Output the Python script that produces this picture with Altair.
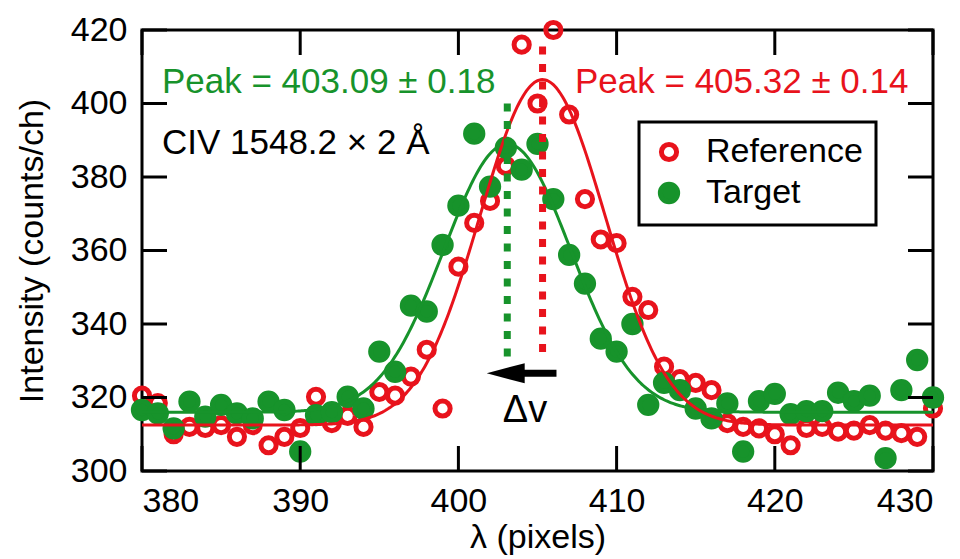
import altair as alt
import numpy as np
import pandas as pd

# ---------------- data ----------------
lam = list(range(380, 431))

ref_counts = [320.5, 318.5, 310.0, 312.0, 311.7, 312.5, 309.3, 312.5, 307.0, 309.3,
              311.7, 320.2, 313.0, 315.0, 312.0, 321.5, 320.5, 325.7, 333.0, 317.0,
              355.6, 367.5, 373.5, 383.0, 416.0, 400.0, 420.0, 397.0, 374.0, 363.0,
              362.0, 347.4, 343.8, 328.4, 325.0, 324.0, 322.0, 313.0, 312.0, 311.6,
              310.0, 307.0, 311.7, 312.0, 310.7, 311.0, 312.5, 311.0, 310.3, 309.3,
              317.0]

tgt_counts = [316.6, 315.7, 311.6, 318.9, 314.8, 318.0, 315.7, 314.3, 318.9, 316.6,
              305.3, 315.2, 316.0, 320.2, 317.0, 332.5, 327.0, 345.0, 343.4, 361.5,
              372.2, 391.8, 377.4, 388.0, 382.0, 389.0, 374.0, 358.8, 351.0, 336.0,
              332.5, 340.0, 318.0, 324.0, 322.0, 317.0, 314.3, 318.4, 305.3, 319.0,
              321.0, 315.5, 316.3, 316.3, 321.3, 319.0, 320.5, 303.5, 322.0, 330.2,
              320.0]

series_names = ["Reference", "Target"]

# Gaussian fit parameters (center, amplitude, sigma, baseline)
ref_fit = [405.32, 94.0, 3.95, 312.5]
tgt_fit = [403.09, 73.0, 4.0, 316.0]

# peak markers: center, top, bottom
ref_marker = [405.32, 415.5, 331.0]
tgt_marker = [403.09, 400.0, 331.0]

x_ticks = [380, 390, 400, 410, 420, 430]
y_ticks = [300, 320, 340, 360, 380, 400, 420]

RED = "#e8131c"
GREEN = "#17932b"
FONT = "Liberation Sans"

W, H = 791, 441
TICK = 25

# ---------------- tables ----------------
points = pd.DataFrame({
    "series": [series_names[0]] * len(lam) + [series_names[1]] * len(lam),
    "lam": lam + lam,
    "counts": ref_counts + tgt_counts,
})

grid = np.linspace(380, 430, 501)


def gauss(p):
    c, a, s, b = p
    return b + a * np.exp(-((grid - c) ** 2) / (2 * s * s))


ref_curve = pd.DataFrame({"lam": grid, "counts": gauss(ref_fit)})
tgt_curve = pd.DataFrame({"lam": grid, "counts": gauss(tgt_fit)})

markers = pd.DataFrame({
    "lam": [tgt_marker[0], ref_marker[0]],
    "counts": [tgt_marker[1], ref_marker[1]],
    "bot": [tgt_marker[2], ref_marker[2]],
    "col": [GREEN, RED],
})

xs = alt.Scale(domain=[380, 430], nice=False, zero=False)
ys = alt.Scale(domain=[300, 420], nice=False, zero=False)

xaxis = alt.Axis(values=x_ticks, title="λ (pixels)", grid=False, ticks=False, tickSize=0,
                 domain=False, labelFontSize=34, labelPadding=13, labelColor="black",
                 titleFontSize=34, titleFontWeight="normal", titlePadding=2,
                 titleColor="black", labelFont=FONT, titleFont=FONT)
yaxis = alt.Axis(values=y_ticks, title="Intensity (counts/ch)", grid=False, ticks=False,
                 tickSize=0, domain=False, labelFontSize=34, labelPadding=15,
                 labelColor="black", titleFontSize=34, titleFontWeight="normal",
                 titlePadding=21, titleColor="black", labelFont=FONT, titleFont=FONT)


def X(field="lam:Q"):
    return alt.X(field, scale=xs, axis=xaxis, title="λ (pixels)")


def Y(field="counts:Q"):
    return alt.Y(field, scale=ys, axis=yaxis, title="Intensity (counts/ch)")


legend = alt.Legend(title=None, orient="none", legendX=497, legendY=92,
                    labelFontSize=34, labelFont=FONT, labelColor="black",
                    labelExpr="datum.label + '\u2002'", labelLimit=400,
                    padding=13, rowPadding=4, labelOffset=20, symbolStrokeWidth=5,
                    strokeColor="black", fillColor="white")

pts = alt.Chart(points).mark_point(strokeWidth=5, opacity=1).encode(
    x=X(), y=Y(),
    stroke=alt.Stroke("series:N", scale=alt.Scale(domain=series_names, range=[RED, GREEN]),
                      legend=legend),
    fill=alt.Fill("series:N", scale=alt.Scale(domain=series_names, range=["transparent", GREEN]),
                  legend=legend),
    size=alt.Size("series:N", scale=alt.Scale(type="ordinal", domain=series_names,
                                              range=[230, 300]),
                  legend=legend),
    order=alt.Order("series:N", sort="ascending"),
)

ref_line = alt.Chart(ref_curve).mark_line(color=RED, strokeWidth=3).encode(x=X(), y=Y())
tgt_line = alt.Chart(tgt_curve).mark_line(color=GREEN, strokeWidth=3).encode(x=X(), y=Y())

dots = alt.Chart(markers).mark_rule(strokeWidth=7, strokeDash=[8, 9.5]).encode(
    x=X(), y=Y(), y2="bot:Q",
    color=alt.Color("col:N", scale=None),
)

# arrow (delta v)
arrow_df = pd.DataFrame({"lam": [403.5], "x2": [406.2], "counts": [326.6]})
head_df = pd.DataFrame({"lam": [402.99], "counts": [326.6]})
shaft = alt.Chart(arrow_df).mark_rule(strokeWidth=7, color="black").encode(
    x=X(), x2="x2:Q", y=Y())
head = alt.Chart(head_df).mark_point(
    shape="M -1 0 L 1 -0.53 L 1 0.53 Z", filled=True, color="black", size=1444, opacity=1
).encode(x=X(), y=Y())

texts = pd.DataFrame({
    "lam": [381.26, 407.37, 381.26],
    "counts": [405.85, 405.85, 389.25],
    "t": ["Peak = 403.09 ± 0.18", "Peak = 405.32 ± 0.14", "CIV 1548.2 × 2 Å"],
    "col": [GREEN, RED, "black"],
})
dv = pd.DataFrame({"lam": [404.21], "counts": [316.3], "t": ["Δv"]})
txt_left = alt.Chart(texts).mark_text(
    align="left", baseline="middle", font=FONT, fontSize=35).encode(
    x=X(), y=Y(), text="t:N", color=alt.Color("col:N", scale=None))
txt_dv = alt.Chart(dv).mark_text(
    align="center", baseline="middle", font=FONT, fontSize=38, color="black").encode(
    x=X(), y=Y(), text="t:N")

# inward ticks on all four sides
xt = pd.DataFrame({"lam": x_ticks})
yt = pd.DataFrame({"counts": y_ticks})
tick_top = alt.Chart(xt).mark_rule(strokeWidth=3, color="black").encode(
    x=X(), y=alt.value(0), y2=alt.value(TICK))
tick_bot = alt.Chart(xt).mark_rule(strokeWidth=3, color="black").encode(
    x=X(), y=alt.value(H), y2=alt.value(H - TICK))
tick_left = alt.Chart(yt).mark_rule(strokeWidth=3, color="black").encode(
    y=Y(), x=alt.value(0), x2=alt.value(TICK))
tick_right = alt.Chart(yt).mark_rule(strokeWidth=3, color="black").encode(
    y=Y(), x=alt.value(W), x2=alt.value(W - TICK))

chart = alt.layer(
    pts, tgt_line, ref_line, dots, shaft, head, txt_left, txt_dv,
    tick_top, tick_bot, tick_left, tick_right
).properties(
    width=W, height=H,
    autosize=alt.AutoSizeParams(type="none"),
    padding={"left": 134, "top": 22, "right": 19, "bottom": 84},
    background="white",
).configure(
    font=FONT
).configure_view(
    stroke="black", strokeWidth=3
).configure_legend(
    strokeWidth=3
)

chart.save("out.html", embed_options={"renderer": "svg", "actions": False})
